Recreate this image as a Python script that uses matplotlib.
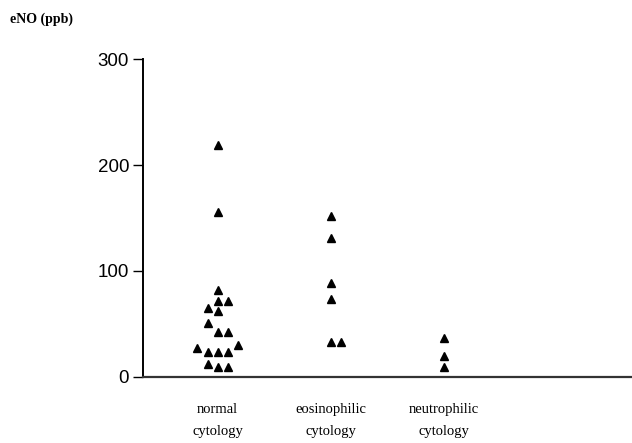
import matplotlib
matplotlib.use("Agg")
import matplotlib.pyplot as plt
import numpy as np

# categories on the x axis
categories = ["normal\ncytology", "eosinophilic\ncytology", "neutrophilic\ncytology"]

# eNO values (ppb), with horizontal slot (-2..2) for the scatter offsets
normal_vals = [219, 156, 82, 72, 72, 65, 62, 51, 42, 42, 27, 24, 24, 24, 30, 12, 9, 9]
normal_slot = [0, 0, 0, 0, 1, -1, 0, -1, 0, 1, -2, -1, 0, 1, 2, -1, 0, 1]
eosin_vals = [152, 131, 89, 74, 33, 33]
eosin_slot = [0, 0, 0, 0, 0, 1]
neutro_vals = [37, 20, 9]
neutro_slot = [0, 0, 0]

yticks = [0, 100, 200, 300]

groups = [(normal_vals, normal_slot), (eosin_vals, eosin_slot), (neutro_vals, neutro_slot)]

fig = plt.figure(figsize=(6.32, 4.43), dpi=100)
ax = fig.add_axes([0.2263, 0.149, 0.7737, 0.7178])

step = 0.09
for i, (vals, slots) in enumerate(groups):
    xs = (i + 1) + np.array(slots) * step
    ax.plot(xs, vals, linestyle="none", marker="^", color="black", markersize=5.5)

ax.set_xlim(0.34, 4.66)
ax.set_ylim(0, 300)

for side in ["top", "right"]:
    ax.spines[side].set_visible(False)
ax.spines["left"].set_linewidth(1.4)
ax.spines["bottom"].set_linewidth(1.6)
ax.spines["bottom"].set_color("#333333")

ax.set_yticks(yticks)
ax.set_yticklabels([str(t) for t in yticks], fontsize=13.5, family="Liberation Sans")
ax.tick_params(axis="y", length=7, width=1, pad=3)

ax.set_xticks([1, 2, 3])
ax.set_xticklabels(categories, fontsize=10.5, family="Liberation Serif", linespacing=1.85)
ax.tick_params(axis="x", length=0, pad=19)

fig.text(0.016, 0.957, "eNO (ppb)", fontsize=10, fontweight="bold",
         family="Liberation Serif", ha="left", va="center")

fig.savefig("out.png", dpi=100)
